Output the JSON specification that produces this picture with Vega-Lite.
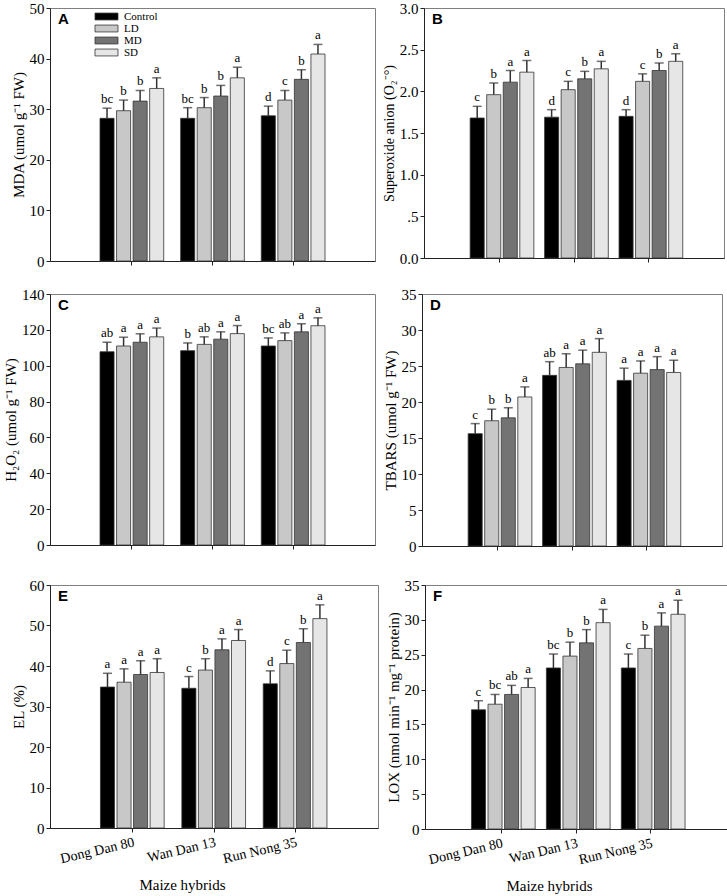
{
  "$schema": "https://vega.github.io/schema/vega-lite/v6.json",
  "padding": {"left": 3, "top": 0, "right": 2, "bottom": 0},
  "background": "white",
  "config": {
    "view": {"stroke": "#7f7f7f", "strokeWidth": 1},
    "font": "Liberation Serif",
    "axis": {"labelFont": "Liberation Serif", "titleFont": "Liberation Serif", "labelFontSize": 15, "titleFontSize": 15, "titleFontWeight": "normal", "labelColor": "#000", "titleColor": "#000", "domainColor": "#222", "tickColor": "#222", "tickSize": 4, "labelPadding": 2, "grid": false, "titlePadding": 3},
    "title": {"font": "Liberation Sans", "fontSize": 15, "fontWeight": "bold", "color": "#000", "anchor": "start", "frame": "group", "orient": "top", "offset": -26, "dx": 8, "baseline": "alphabetic"},
    "legend": {"labelFont": "Liberation Serif", "labelFontSize": 11, "labelColor": "#000"}
  },
  "data": {"values": [
    {"p":"A","h":"Dong Dan 80","t":"Control","m":28.2,"u":30.2,"l":"bc"},
    {"p":"A","h":"Dong Dan 80","t":"LD","m":29.7,"u":31.8,"l":"b"},
    {"p":"A","h":"Dong Dan 80","t":"MD","m":31.6,"u":33.7,"l":"b"},
    {"p":"A","h":"Dong Dan 80","t":"SD","m":34.1,"u":36.2,"l":"a"},
    {"p":"A","h":"Wan Dan 13","t":"Control","m":28.2,"u":30.3,"l":"bc"},
    {"p":"A","h":"Wan Dan 13","t":"LD","m":30.3,"u":32.3,"l":"b"},
    {"p":"A","h":"Wan Dan 13","t":"MD","m":32.6,"u":34.7,"l":"b"},
    {"p":"A","h":"Wan Dan 13","t":"SD","m":36.2,"u":38.3,"l":"a"},
    {"p":"A","h":"Run Nong 35","t":"Control","m":28.7,"u":30.6,"l":"d"},
    {"p":"A","h":"Run Nong 35","t":"LD","m":31.8,"u":33.7,"l":"c"},
    {"p":"A","h":"Run Nong 35","t":"MD","m":35.9,"u":37.8,"l":"b"},
    {"p":"A","h":"Run Nong 35","t":"SD","m":40.9,"u":42.8,"l":"a"},
    {"p":"B","h":"Dong Dan 80","t":"Control","m":1.68,"u":1.82,"l":"c"},
    {"p":"B","h":"Dong Dan 80","t":"LD","m":1.96,"u":2.10,"l":"b"},
    {"p":"B","h":"Dong Dan 80","t":"MD","m":2.11,"u":2.25,"l":"a"},
    {"p":"B","h":"Dong Dan 80","t":"SD","m":2.23,"u":2.37,"l":"a"},
    {"p":"B","h":"Wan Dan 13","t":"Control","m":1.69,"u":1.78,"l":"d"},
    {"p":"B","h":"Wan Dan 13","t":"LD","m":2.02,"u":2.12,"l":"c"},
    {"p":"B","h":"Wan Dan 13","t":"MD","m":2.15,"u":2.24,"l":"b"},
    {"p":"B","h":"Wan Dan 13","t":"SD","m":2.27,"u":2.36,"l":"a"},
    {"p":"B","h":"Run Nong 35","t":"Control","m":1.70,"u":1.78,"l":"d"},
    {"p":"B","h":"Run Nong 35","t":"LD","m":2.12,"u":2.21,"l":"c"},
    {"p":"B","h":"Run Nong 35","t":"MD","m":2.25,"u":2.34,"l":"b"},
    {"p":"B","h":"Run Nong 35","t":"SD","m":2.36,"u":2.45,"l":"a"},
    {"p":"C","h":"Dong Dan 80","t":"Control","m":107.8,"u":113.1,"l":"ab"},
    {"p":"C","h":"Dong Dan 80","t":"LD","m":111.0,"u":115.9,"l":"a"},
    {"p":"C","h":"Dong Dan 80","t":"MD","m":113.1,"u":117.8,"l":"a"},
    {"p":"C","h":"Dong Dan 80","t":"SD","m":116.1,"u":121.0,"l":"a"},
    {"p":"C","h":"Wan Dan 13","t":"Control","m":108.4,"u":112.7,"l":"b"},
    {"p":"C","h":"Wan Dan 13","t":"LD","m":111.9,"u":116.1,"l":"ab"},
    {"p":"C","h":"Wan Dan 13","t":"MD","m":114.8,"u":118.9,"l":"a"},
    {"p":"C","h":"Wan Dan 13","t":"SD","m":117.9,"u":122.4,"l":"a"},
    {"p":"C","h":"Run Nong 35","t":"Control","m":111.0,"u":115.5,"l":"bc"},
    {"p":"C","h":"Run Nong 35","t":"LD","m":114.0,"u":118.3,"l":"ab"},
    {"p":"C","h":"Run Nong 35","t":"MD","m":118.9,"u":123.4,"l":"a"},
    {"p":"C","h":"Run Nong 35","t":"SD","m":122.3,"u":126.7,"l":"a"},
    {"p":"D","h":"Dong Dan 80","t":"Control","m":15.6,"u":17.0,"l":"c"},
    {"p":"D","h":"Dong Dan 80","t":"LD","m":17.4,"u":19.0,"l":"b"},
    {"p":"D","h":"Dong Dan 80","t":"MD","m":17.8,"u":19.2,"l":"b"},
    {"p":"D","h":"Dong Dan 80","t":"SD","m":20.7,"u":22.1,"l":"a"},
    {"p":"D","h":"Wan Dan 13","t":"Control","m":23.7,"u":25.6,"l":"ab"},
    {"p":"D","h":"Wan Dan 13","t":"LD","m":24.8,"u":26.7,"l":"a"},
    {"p":"D","h":"Wan Dan 13","t":"MD","m":25.3,"u":27.2,"l":"a"},
    {"p":"D","h":"Wan Dan 13","t":"SD","m":26.9,"u":28.8,"l":"a"},
    {"p":"D","h":"Run Nong 35","t":"Control","m":23.0,"u":24.7,"l":"a"},
    {"p":"D","h":"Run Nong 35","t":"LD","m":24.0,"u":25.7,"l":"a"},
    {"p":"D","h":"Run Nong 35","t":"MD","m":24.5,"u":26.3,"l":"a"},
    {"p":"D","h":"Run Nong 35","t":"SD","m":24.1,"u":25.8,"l":"a"},
    {"p":"E","h":"Dong Dan 80","t":"Control","m":34.8,"u":38.2,"l":"a"},
    {"p":"E","h":"Dong Dan 80","t":"LD","m":36.0,"u":39.3,"l":"a"},
    {"p":"E","h":"Dong Dan 80","t":"MD","m":37.9,"u":41.3,"l":"a"},
    {"p":"E","h":"Dong Dan 80","t":"SD","m":38.4,"u":41.8,"l":"a"},
    {"p":"E","h":"Wan Dan 13","t":"Control","m":34.5,"u":37.4,"l":"c"},
    {"p":"E","h":"Wan Dan 13","t":"LD","m":39.0,"u":41.8,"l":"b"},
    {"p":"E","h":"Wan Dan 13","t":"MD","m":44.0,"u":46.7,"l":"a"},
    {"p":"E","h":"Wan Dan 13","t":"SD","m":46.3,"u":49.0,"l":"a"},
    {"p":"E","h":"Run Nong 35","t":"Control","m":35.6,"u":38.8,"l":"d"},
    {"p":"E","h":"Run Nong 35","t":"LD","m":40.6,"u":43.9,"l":"c"},
    {"p":"E","h":"Run Nong 35","t":"MD","m":45.8,"u":49.2,"l":"b"},
    {"p":"E","h":"Run Nong 35","t":"SD","m":51.7,"u":55.1,"l":"a"},
    {"p":"F","h":"Dong Dan 80","t":"Control","m":17.1,"u":18.4,"l":"c"},
    {"p":"F","h":"Dong Dan 80","t":"LD","m":17.9,"u":19.3,"l":"bc"},
    {"p":"F","h":"Dong Dan 80","t":"MD","m":19.3,"u":20.6,"l":"ab"},
    {"p":"F","h":"Dong Dan 80","t":"SD","m":20.3,"u":21.6,"l":"a"},
    {"p":"F","h":"Wan Dan 13","t":"Control","m":23.1,"u":25.1,"l":"bc"},
    {"p":"F","h":"Wan Dan 13","t":"LD","m":24.8,"u":26.8,"l":"b"},
    {"p":"F","h":"Wan Dan 13","t":"MD","m":26.7,"u":28.6,"l":"b"},
    {"p":"F","h":"Wan Dan 13","t":"SD","m":29.6,"u":31.5,"l":"a"},
    {"p":"F","h":"Run Nong 35","t":"Control","m":23.1,"u":25.1,"l":"c"},
    {"p":"F","h":"Run Nong 35","t":"LD","m":25.9,"u":27.8,"l":"b"},
    {"p":"F","h":"Run Nong 35","t":"MD","m":29.1,"u":31.0,"l":"a"},
    {"p":"F","h":"Run Nong 35","t":"SD","m":30.8,"u":32.8,"l":"a"}
  ]},
  "resolve": {"legend": {"color": "independent"}},
  "spacing": 22,
  "vconcat": [
    {
      "resolve": {"legend": {"color": "independent"}},
      "spacing": 16,
      "vconcat": [
        {
          "resolve": {"legend": {"color": "independent"}},
          "spacing": 5,
          "hconcat": [
            {
              "width": 325, "height": 253,
              "title": {"text": "A"},
              "transform": [{"filter": "datum.p == 'A'"}],
              "encoding": {
                "x": {"field": "h", "type": "nominal", "sort": ["Dong Dan 80", "Wan Dan 13", "Run Nong 35"], "scale": {"paddingInner": 0.21, "paddingOuter": 0.62}, "axis": {"labels": false, "title": null}},
                "xOffset": {"field": "t", "type": "nominal", "sort": ["Control", "LD", "MD", "SD"], "scale": {"paddingInner": 0.15, "paddingOuter": 0}}
              },
              "layer": [
                {"mark": {"type": "bar", "stroke": "#333", "strokeWidth": 0.8},
                 "encoding": {
                   "y": {"field": "m", "type": "quantitative", "scale": {"domain": [0, 50], "nice": false}, "axis": {"values": [0, 10, 20, 30, 40, 50], "title": "MDA (umol g⁻¹ FW)"}},
                   "color": {"field": "t", "type": "nominal", "sort": ["Control", "LD", "MD", "SD"], "scale": {"domain": ["Control", "LD", "MD", "SD"], "range": ["#000000", "#c8c8c8", "#737373", "#e6e6e6"]},
                     "legend": {"title": null, "orient": "none", "legendX": 50, "legendY": 2, "symbolType": "M-2,-0.6H2V0.6H-2Z", "symbolSize": 132, "symbolStrokeColor": "#333", "symbolStrokeWidth": 0.8, "symbolOpacity": 1, "rowPadding": 0, "labelOffset": 11, "labelFontSize": 11}}
                 }},
                {"mark": {"type": "rule", "color": "#333", "strokeWidth": 1.5},
                 "encoding": {
                   "y": {"field": "m", "type": "quantitative", "scale": {"domain": [0, 50], "nice": false}, "axis": {"values": [0, 10, 20, 30, 40, 50], "title": "MDA (umol g⁻¹ FW)"}},
                   "y2": {"field": "u"}
                 }},
                {"mark": {"type": "tick", "color": "#333", "size": 9, "thickness": 1.5},
                 "encoding": {
                   "y": {"field": "u", "type": "quantitative", "scale": {"domain": [0, 50], "nice": false}, "axis": {"values": [0, 10, 20, 30, 40, 50], "title": "MDA (umol g⁻¹ FW)"}}
                 }},
                {"mark": {"type": "text", "font": "Liberation Serif", "fontSize": 13, "baseline": "alphabetic", "dy": -5, "color": "#000"},
                 "encoding": {
                   "y": {"field": "u", "type": "quantitative", "scale": {"domain": [0, 50], "nice": false}, "axis": {"values": [0, 10, 20, 30, 40, 50], "title": "MDA (umol g⁻¹ FW)"}},
                   "text": {"field": "l"}
                 }}
              ]
            },
            {
              "width": 300, "height": 250,
              "title": {"text": "B"},
              "transform": [{"filter": "datum.p == 'B'"}],
              "encoding": {
                "x": {"field": "h", "type": "nominal", "sort": ["Dong Dan 80", "Wan Dan 13", "Run Nong 35"], "scale": {"paddingInner": 0.21, "paddingOuter": 0.62}, "axis": {"labels": false, "title": null}},
                "xOffset": {"field": "t", "type": "nominal", "sort": ["Control", "LD", "MD", "SD"], "scale": {"paddingInner": 0.15, "paddingOuter": 0}}
              },
              "layer": [
                {"mark": {"type": "bar", "stroke": "#333", "strokeWidth": 0.8},
                 "encoding": {
                   "y": {"field": "m", "type": "quantitative", "scale": {"domain": [0, 3], "nice": false}, "axis": {"values": [0, 0.5, 1, 1.5, 2, 2.5, 3], "labelExpr": "datum.value == 0.5 ? '.5' : format(datum.value, '.1f')", "title": "Superoxide anion (O₂⁻°)", "titleFontSize": 14}},
                   "color": {"field": "t", "type": "nominal", "sort": ["Control", "LD", "MD", "SD"], "scale": {"domain": ["Control", "LD", "MD", "SD"], "range": ["#000000", "#c8c8c8", "#737373", "#e6e6e6"]}, "legend": null}
                 }},
                {"mark": {"type": "rule", "color": "#333", "strokeWidth": 1.5},
                 "encoding": {
                   "y": {"field": "m", "type": "quantitative", "scale": {"domain": [0, 3], "nice": false}, "axis": {"values": [0, 0.5, 1, 1.5, 2, 2.5, 3], "labelExpr": "datum.value == 0.5 ? '.5' : format(datum.value, '.1f')", "title": "Superoxide anion (O₂⁻°)", "titleFontSize": 14}},
                   "y2": {"field": "u"}
                 }},
                {"mark": {"type": "tick", "color": "#333", "size": 9, "thickness": 1.5},
                 "encoding": {
                   "y": {"field": "u", "type": "quantitative", "scale": {"domain": [0, 3], "nice": false}, "axis": {"values": [0, 0.5, 1, 1.5, 2, 2.5, 3], "labelExpr": "datum.value == 0.5 ? '.5' : format(datum.value, '.1f')", "title": "Superoxide anion (O₂⁻°)", "titleFontSize": 14}}
                 }},
                {"mark": {"type": "text", "font": "Liberation Serif", "fontSize": 13, "baseline": "alphabetic", "dy": -5, "color": "#000"},
                 "encoding": {
                   "y": {"field": "u", "type": "quantitative", "scale": {"domain": [0, 3], "nice": false}, "axis": {"values": [0, 0.5, 1, 1.5, 2, 2.5, 3], "labelExpr": "datum.value == 0.5 ? '.5' : format(datum.value, '.1f')", "title": "Superoxide anion (O₂⁻°)", "titleFontSize": 14}},
                   "text": {"field": "l"}
                 }}
              ]
            }
          ]
        },
        {
          "resolve": {"legend": {"color": "independent"}},
          "spacing": 6,
          "hconcat": [
            {
              "width": 325, "height": 251,
              "title": {"text": "C"},
              "transform": [{"filter": "datum.p == 'C'"}],
              "encoding": {
                "x": {"field": "h", "type": "nominal", "sort": ["Dong Dan 80", "Wan Dan 13", "Run Nong 35"], "scale": {"paddingInner": 0.21, "paddingOuter": 0.62}, "axis": {"labels": false, "title": null}},
                "xOffset": {"field": "t", "type": "nominal", "sort": ["Control", "LD", "MD", "SD"], "scale": {"paddingInner": 0.15, "paddingOuter": 0}}
              },
              "layer": [
                {"mark": {"type": "bar", "stroke": "#333", "strokeWidth": 0.8},
                 "encoding": {
                   "y": {"field": "m", "type": "quantitative", "scale": {"domain": [0, 140], "nice": false}, "axis": {"values": [0, 20, 40, 60, 80, 100, 120, 140], "title": "H₂O₂ (umol g⁻¹ FW)"}},
                   "color": {"field": "t", "type": "nominal", "sort": ["Control", "LD", "MD", "SD"], "scale": {"domain": ["Control", "LD", "MD", "SD"], "range": ["#000000", "#c8c8c8", "#737373", "#e6e6e6"]}, "legend": null}
                 }},
                {"mark": {"type": "rule", "color": "#333", "strokeWidth": 1.5},
                 "encoding": {
                   "y": {"field": "m", "type": "quantitative", "scale": {"domain": [0, 140], "nice": false}, "axis": {"values": [0, 20, 40, 60, 80, 100, 120, 140], "title": "H₂O₂ (umol g⁻¹ FW)"}},
                   "y2": {"field": "u"}
                 }},
                {"mark": {"type": "tick", "color": "#333", "size": 9, "thickness": 1.5},
                 "encoding": {
                   "y": {"field": "u", "type": "quantitative", "scale": {"domain": [0, 140], "nice": false}, "axis": {"values": [0, 20, 40, 60, 80, 100, 120, 140], "title": "H₂O₂ (umol g⁻¹ FW)"}}
                 }},
                {"mark": {"type": "text", "font": "Liberation Serif", "fontSize": 13, "baseline": "alphabetic", "dy": -5, "color": "#000"},
                 "encoding": {
                   "y": {"field": "u", "type": "quantitative", "scale": {"domain": [0, 140], "nice": false}, "axis": {"values": [0, 20, 40, 60, 80, 100, 120, 140], "title": "H₂O₂ (umol g⁻¹ FW)"}},
                   "text": {"field": "l"}
                 }}
              ]
            },
            {
              "width": 300, "height": 252,
              "title": {"text": "D"},
              "transform": [{"filter": "datum.p == 'D'"}],
              "encoding": {
                "x": {"field": "h", "type": "nominal", "sort": ["Dong Dan 80", "Wan Dan 13", "Run Nong 35"], "scale": {"paddingInner": 0.21, "paddingOuter": 0.62}, "axis": {"labels": false, "title": null}},
                "xOffset": {"field": "t", "type": "nominal", "sort": ["Control", "LD", "MD", "SD"], "scale": {"paddingInner": 0.15, "paddingOuter": 0}}
              },
              "layer": [
                {"mark": {"type": "bar", "stroke": "#333", "strokeWidth": 0.8},
                 "encoding": {
                   "y": {"field": "m", "type": "quantitative", "scale": {"domain": [0, 35], "nice": false}, "axis": {"values": [0, 5, 10, 15, 20, 25, 30, 35], "title": "TBARS (umol g⁻¹ FW)"}},
                   "color": {"field": "t", "type": "nominal", "sort": ["Control", "LD", "MD", "SD"], "scale": {"domain": ["Control", "LD", "MD", "SD"], "range": ["#000000", "#c8c8c8", "#737373", "#e6e6e6"]}, "legend": null}
                 }},
                {"mark": {"type": "rule", "color": "#333", "strokeWidth": 1.5},
                 "encoding": {
                   "y": {"field": "m", "type": "quantitative", "scale": {"domain": [0, 35], "nice": false}, "axis": {"values": [0, 5, 10, 15, 20, 25, 30, 35], "title": "TBARS (umol g⁻¹ FW)"}},
                   "y2": {"field": "u"}
                 }},
                {"mark": {"type": "tick", "color": "#333", "size": 9, "thickness": 1.5},
                 "encoding": {
                   "y": {"field": "u", "type": "quantitative", "scale": {"domain": [0, 35], "nice": false}, "axis": {"values": [0, 5, 10, 15, 20, 25, 30, 35], "title": "TBARS (umol g⁻¹ FW)"}}
                 }},
                {"mark": {"type": "text", "font": "Liberation Serif", "fontSize": 13, "baseline": "alphabetic", "dy": -5, "color": "#000"},
                 "encoding": {
                   "y": {"field": "u", "type": "quantitative", "scale": {"domain": [0, 35], "nice": false}, "axis": {"values": [0, 5, 10, 15, 20, 25, 30, 35], "title": "TBARS (umol g⁻¹ FW)"}},
                   "text": {"field": "l"}
                 }}
              ]
            }
          ]
        }
      ]
    },
    {
      "resolve": {"legend": {"color": "independent"}},
      "spacing": 6,
      "hconcat": [
        {
          "width": 328, "height": 243,
          "title": {"text": "E"},
          "transform": [{"filter": "datum.p == 'E'"}],
          "encoding": {
            "x": {"field": "h", "type": "nominal", "sort": ["Dong Dan 80", "Wan Dan 13", "Run Nong 35"], "scale": {"paddingInner": 0.21, "paddingOuter": 0.62}, "axis": {"title": "Maize hybrids", "labelAngle": -13, "labelAlign": "right", "labelBaseline": "top", "labelFontSize": 14, "labelPadding": 3, "titlePadding": 12, "titleX": 132}},
            "xOffset": {"field": "t", "type": "nominal", "sort": ["Control", "LD", "MD", "SD"], "scale": {"paddingInner": 0.15, "paddingOuter": 0}}
          },
          "layer": [
            {"mark": {"type": "bar", "stroke": "#333", "strokeWidth": 0.8},
             "encoding": {
               "y": {"field": "m", "type": "quantitative", "scale": {"domain": [0, 60], "nice": false}, "axis": {"values": [0, 10, 20, 30, 40, 50, 60], "title": "EL (%)"}},
               "color": {"field": "t", "type": "nominal", "sort": ["Control", "LD", "MD", "SD"], "scale": {"domain": ["Control", "LD", "MD", "SD"], "range": ["#000000", "#c8c8c8", "#737373", "#e6e6e6"]}, "legend": null}
             }},
            {"mark": {"type": "rule", "color": "#333", "strokeWidth": 1.5},
             "encoding": {
               "y": {"field": "m", "type": "quantitative", "scale": {"domain": [0, 60], "nice": false}, "axis": {"values": [0, 10, 20, 30, 40, 50, 60], "title": "EL (%)"}},
               "y2": {"field": "u"}
             }},
            {"mark": {"type": "tick", "color": "#333", "size": 9, "thickness": 1.5},
             "encoding": {
               "y": {"field": "u", "type": "quantitative", "scale": {"domain": [0, 60], "nice": false}, "axis": {"values": [0, 10, 20, 30, 40, 50, 60], "title": "EL (%)"}}
             }},
            {"mark": {"type": "text", "font": "Liberation Serif", "fontSize": 13, "baseline": "alphabetic", "dy": -5, "color": "#000"},
             "encoding": {
               "y": {"field": "u", "type": "quantitative", "scale": {"domain": [0, 60], "nice": false}, "axis": {"values": [0, 10, 20, 30, 40, 50, 60], "title": "EL (%)"}},
               "text": {"field": "l"}
             }}
          ]
        },
        {
          "width": 302, "height": 244,
          "title": {"text": "F"},
          "transform": [{"filter": "datum.p == 'F'"}],
          "encoding": {
            "x": {"field": "h", "type": "nominal", "sort": ["Dong Dan 80", "Wan Dan 13", "Run Nong 35"], "scale": {"paddingInner": 0.21, "paddingOuter": 0.62}, "axis": {"title": "Maize hybrids", "labelAngle": -13, "labelAlign": "right", "labelBaseline": "top", "labelFontSize": 14, "labelPadding": 3, "titlePadding": 12, "titleX": 124}},
            "xOffset": {"field": "t", "type": "nominal", "sort": ["Control", "LD", "MD", "SD"], "scale": {"paddingInner": 0.15, "paddingOuter": 0}}
          },
          "layer": [
            {"mark": {"type": "bar", "stroke": "#333", "strokeWidth": 0.8},
             "encoding": {
               "y": {"field": "m", "type": "quantitative", "scale": {"domain": [0, 35], "nice": false}, "axis": {"values": [0, 5, 10, 15, 20, 25, 30, 35], "title": "LOX (nmol min⁻¹ mg⁻¹ protein)"}},
               "color": {"field": "t", "type": "nominal", "sort": ["Control", "LD", "MD", "SD"], "scale": {"domain": ["Control", "LD", "MD", "SD"], "range": ["#000000", "#c8c8c8", "#737373", "#e6e6e6"]}, "legend": null}
             }},
            {"mark": {"type": "rule", "color": "#333", "strokeWidth": 1.5},
             "encoding": {
               "y": {"field": "m", "type": "quantitative", "scale": {"domain": [0, 35], "nice": false}, "axis": {"values": [0, 5, 10, 15, 20, 25, 30, 35], "title": "LOX (nmol min⁻¹ mg⁻¹ protein)"}},
               "y2": {"field": "u"}
             }},
            {"mark": {"type": "tick", "color": "#333", "size": 9, "thickness": 1.5},
             "encoding": {
               "y": {"field": "u", "type": "quantitative", "scale": {"domain": [0, 35], "nice": false}, "axis": {"values": [0, 5, 10, 15, 20, 25, 30, 35], "title": "LOX (nmol min⁻¹ mg⁻¹ protein)"}}
             }},
            {"mark": {"type": "text", "font": "Liberation Serif", "fontSize": 13, "baseline": "alphabetic", "dy": -5, "color": "#000"},
             "encoding": {
               "y": {"field": "u", "type": "quantitative", "scale": {"domain": [0, 35], "nice": false}, "axis": {"values": [0, 5, 10, 15, 20, 25, 30, 35], "title": "LOX (nmol min⁻¹ mg⁻¹ protein)"}},
               "text": {"field": "l"}
             }}
          ]
        }
      ]
    }
  ]
}
